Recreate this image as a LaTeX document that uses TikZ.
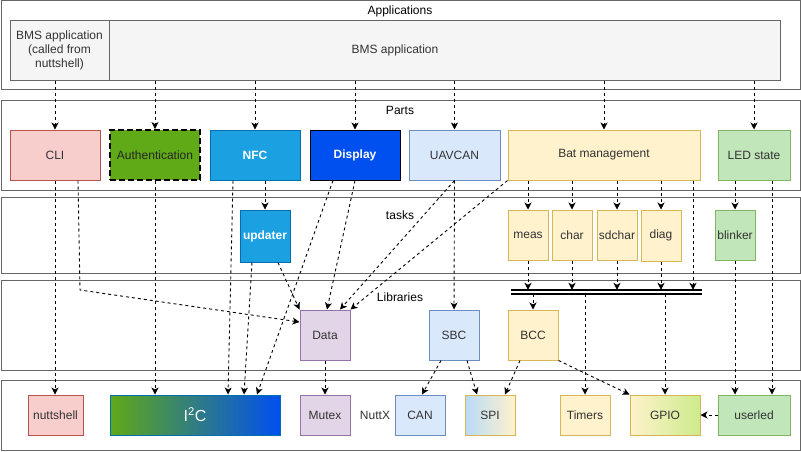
\documentclass[tikz,border=0pt]{standalone}
\usepackage{fontspec}
\setmainfont{Liberation Sans}
\usetikzlibrary{arrows.meta}

\definecolor{bandline}{HTML}{666666}
\definecolor{graybg}{HTML}{F5F5F5}
\definecolor{textgray}{HTML}{333333}
\definecolor{redbg}{HTML}{F8CECC}
\definecolor{redline}{HTML}{B85450}
\definecolor{greenbg}{HTML}{60A917}
\definecolor{cyanbg}{HTML}{1BA1E2}
\definecolor{cyanline}{HTML}{006EAF}
\definecolor{bluebg}{HTML}{0050EF}
\definecolor{lightblue}{HTML}{DAE8FC}
\definecolor{blueline}{HTML}{6C8EBF}
\definecolor{yellowbg}{HTML}{FFF2CC}
\definecolor{yellowline}{HTML}{D6B656}
\definecolor{ledbg}{HTML}{C1E6BA}
\definecolor{ledline}{HTML}{82B366}
\definecolor{purplebg}{HTML}{E1D5E7}
\definecolor{purpleline}{HTML}{9673A6}
\definecolor{spiblue}{HTML}{B9DBF8}
\definecolor{gpiogreen}{HTML}{CDEB8B}

\tikzset{
	layer/.style={shape=rectangle, draw=bandline, line width=1pt, inner sep=0pt},
	box/.style={shape=rectangle, line width=1pt, inner sep=0pt, align=center, text=textgray, font=\fontsize{12}{14}\selectfont},
	dep/.style={black, line width=0.9pt, dash pattern=on 3pt off 3pt, -{Stealth[length=7pt,width=7pt,inset=2pt]}}
}

\begin{document}
\begin{tikzpicture}[x=1pt,y=-1pt]
	
	\useasboundingbox (0,0) rectangle (801,451);
	
	\node[layer, minimum width=799pt, minimum height=89pt] (apps) at (400.5,45) {};
	\node[layer, minimum width=799pt, minimum height=90pt] (parts) at (400.5,145) {};
	\node[layer, minimum width=799pt, minimum height=76pt] (tasks) at (400.5,235) {};
	\node[layer, minimum width=799pt, minimum height=90pt] (libs) at (400.5,325) {};
	\node[layer, minimum width=799pt, minimum height=70pt] (nuttx) at (400.5,415) {};
	
	\node[box, text=black] (appslabel) at (400,11)     {Applications};
	\node[box, text=black] (partslabel) at (400,110)   {Parts};
	\node[box, text=black] (taskslabel) at (400,215)   {tasks};
	\node[box, text=black] (libslabel) at (400,297)    {Libraries};
	\node[box] (nuttxlabel) at (375,415)               {NuttX};
	
	\node[box, fill=graybg, draw=bandline, minimum width=770pt, minimum height=60pt] (bmsapp) at (395,50) {BMS application};
	\node[box, fill=graybg, draw=bandline, minimum width=99pt, minimum height=60pt] (bmscli) at (59.5,50) {BMS application\\(called from\\nuttshell)};
	
	\node[box, fill=redbg, draw=redline, minimum width=90pt, minimum height=50pt] (cli) at (55,155)     {CLI};
	\node[box, fill=greenbg, draw=black, line width=2pt, dash pattern=on 6pt off 3pt, text=black!85, minimum width=90pt, minimum height=50pt] (auth) at (155,155)     {Authentication};
	\node[box, fill=cyanbg, draw=cyanline, text=white, minimum width=90pt, minimum height=50pt] (nfc) at (255,155)     {\textbf{NFC}};
	\node[box, fill=bluebg, draw=black, text=white, minimum width=90pt, minimum height=50pt] (display) at (355,155)     {\textbf{Display}};
	\node[box, fill=lightblue, draw=blueline, minimum width=91pt, minimum height=50pt] (uavcan) at (454.5,155)     {UAVCAN};
	\node[box, fill=yellowbg, draw=yellowline, minimum width=192pt, minimum height=50pt] (bat) at (604,155)     {Bat management};
	\node[box, fill=ledbg, draw=ledline, minimum width=72pt, minimum height=50pt] (led) at (754,155)     {LED state};
	
	\node[box, fill=cyanbg, draw=cyanline, text=white, minimum width=50pt, minimum height=52pt] (updater) at (265,236)     {\textbf{updater}};
	\node[box, fill=yellowbg, draw=yellowline, minimum width=40pt, minimum height=50pt] (meas) at (528,235)     {meas};
	\node[box, fill=yellowbg, draw=yellowline, minimum width=40pt, minimum height=50pt] (char) at (572,235)     {char};
	\node[box, fill=yellowbg, draw=yellowline, minimum width=40pt, minimum height=50pt] (sdchar) at (617,235)     {sdchar};
	\node[box, fill=yellowbg, draw=yellowline, minimum width=40pt, minimum height=51pt] (diag) at (661,235.5)     {diag};
	\node[box, fill=ledbg, draw=ledline, minimum width=40pt, minimum height=50pt] (blinker) at (735,235)     {blinker};
	
	\node[shape=rectangle, inner sep=0pt, minimum width=191pt, minimum height=4pt] (bus) at (606.5,292) {};
	\draw[line width=1.5pt] (bus.north west) -- (bus.north east);
	\draw[line width=1.5pt] (bus.south west) -- (bus.south east);
	
	\node[box, fill=purplebg, draw=purpleline, minimum width=50pt, minimum height=50pt] (data) at (325,335)     {Data};
	\node[box, fill=lightblue, draw=blueline, minimum width=50pt, minimum height=50pt] (sbc) at (454,335)     {SBC};
	\node[box, fill=yellowbg, draw=yellowline, minimum width=50pt, minimum height=50pt] (bcc) at (533,335)     {BCC};
	
	\node[box, fill=redbg, draw=redline, minimum width=55pt, minimum height=40pt] (nuttshell) at (55.5,415)     {nuttshell};
	\node[box, left color=greenbg, right color=bluebg, draw=cyanline, text=white, font=\fontsize{16}{18}\selectfont, minimum width=170pt, minimum height=40pt] (i2c) at (195,415)     {I\textsuperscript{2}C};
	\node[box, fill=purplebg, draw=purpleline, minimum width=50pt, minimum height=40pt] (mutex) at (325,415)     {Mutex};
	\node[box, fill=lightblue, draw=blueline, minimum width=50pt, minimum height=40pt] (can) at (420,415)     {CAN};
	\node[box, left color=spiblue, right color=yellowbg, draw=yellowline, minimum width=50pt, minimum height=40pt] (spi) at (490,415)     {SPI};
	\node[box, fill=yellowbg, draw=yellowline, minimum width=50pt, minimum height=40pt] (timers) at (585,415)     {Timers};
	\node[box, left color=yellowbg, right color=gpiogreen, draw=yellowline, minimum width=70pt, minimum height=40pt] (gpio) at (665,415)     {GPIO};
	\node[box, fill=ledbg, draw=ledline, minimum width=72pt, minimum height=40pt] (userled) at (754,415)     {userled};
	
	\path (cli.north |- bmscli.south) edge[dep] (cli.north);
	\path (auth.north |- bmsapp.south) edge[dep] (auth.north);
	\path (nfc.north |- bmsapp.south) edge[dep] (nfc.north);
	\path (display.north |- bmsapp.south) edge[dep] (display.north);
	\path (uavcan.north |- bmsapp.south) edge[dep] (uavcan.north);
	\path (bat.north |- bmsapp.south) edge[dep] (bat.north);
	\path (led.north |- bmsapp.south) edge[dep] (led.north);
	
	\path (cli.south) edge[dep] (cli.south |- nuttshell.north);
	\draw[dep] ([xshift=23pt]cli.south) -- (80,290) -- ([yshift=13pt]data.west);
	\path (auth.south) edge[dep] (auth.south |- i2c.north);
	\path ([xshift=10pt]nfc.south) edge[dep] (updater.north);
	\path ([xshift=-22pt]nfc.south) edge[dep] ([xshift=33pt]i2c.north);
	\path ([xshift=-13pt]updater.south) edge[dep] ([xshift=49pt]i2c.north);
	\path ([xshift=13pt]updater.south) edge[dep] (data.north west);
	\path ([xshift=-22pt]display.south) edge[dep] ([xshift=62pt]i2c.north);
	\path (display.south) edge[dep] ([xshift=2pt]data.north);
	\path (uavcan.south) edge[dep] ([xshift=15pt]data.north);
	\path (bat.south west) edge[dep] (data.north east);
	\path (uavcan.south) edge[dep] (sbc.north);
	
	\path (meas.north |- bat.south) edge[dep] (meas.north);
	\path (char.north |- bat.south) edge[dep] (char.north);
	\path (sdchar.north |- bat.south) edge[dep] (sdchar.north);
	\path (diag.north |- bat.south) edge[dep] (diag.north);
	\path ([xshift=89pt]bat.south) edge[dep] ([xshift=89pt]bat.south |- bus.north);
	\path (led.south -| blinker.north) edge[dep] (blinker.north);
	\path ([xshift=18pt]led.south) edge[dep] ([xshift=18pt]userled.north);
	
	\path (meas.south) edge[dep] (meas.south |- bus.north);
	\path (char.south) edge[dep] (char.south |- bus.north);
	\path (sdchar.south) edge[dep] (sdchar.south |- bus.north);
	\path (diag.south) edge[dep] (diag.south |- bus.north);
	\path (blinker.south) edge[dep] (blinker.south |- userled.north);
	
	\path (bcc.north |- bus.south) edge[dep] (bcc.north);
	\path (timers.north |- bus.south) edge[dep] (timers.north);
	\path (gpio.north |- bus.south) edge[dep] (gpio.north);
	
	\path (data.south) edge[dep] (mutex.north);
	\path ([xshift=-13pt]sbc.south) edge[dep] ([xshift=2pt]can.north);
	\path ([xshift=13pt]sbc.south) edge[dep] ([xshift=-13pt]spi.north);
	\path ([xshift=-13pt]bcc.south) edge[dep] ([xshift=15pt]spi.north);
	\path (bcc.south east) edge[dep] (gpio.north west);
	\path (userled.west) edge[dep] (gpio.east);
	
\end{tikzpicture}
\end{document}
